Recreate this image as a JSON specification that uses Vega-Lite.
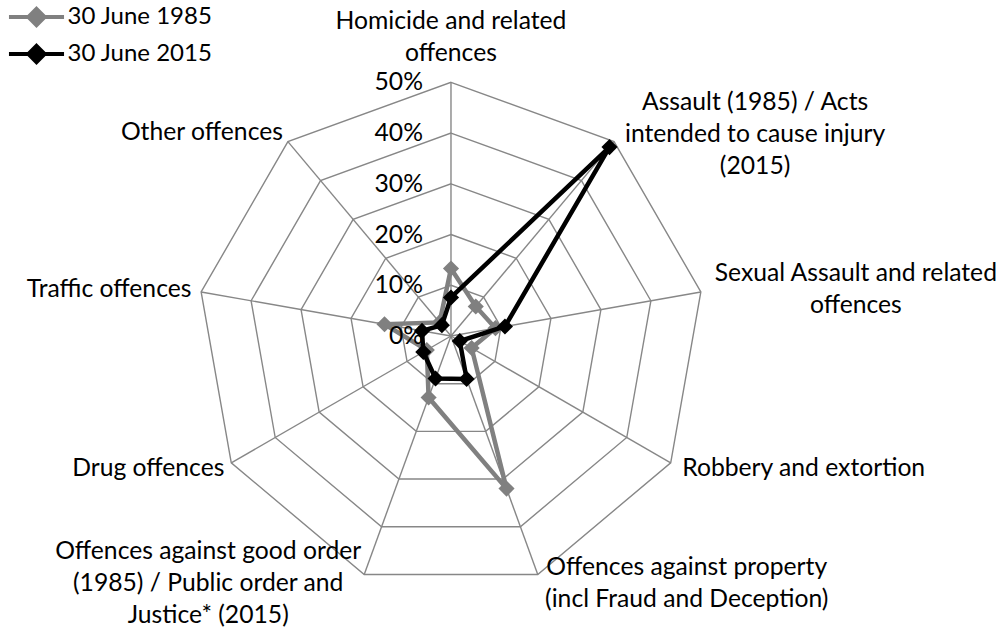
{
  "$schema": "https://vega.github.io/schema/vega-lite/v6.json",
  "width": 1003,
  "height": 629,
  "autosize": "none",
  "padding": 0,
  "background": "white",
  "config": {"view": {"stroke": null}, "font": "Lato", "text": {"font": "Lato", "fontSize": 24.7, "color": "#000000"}},
  "datasets": {
    "values": [
      {"series": "30 June 1985", "category": "Homicide", "i": 0, "v": 13.3},
      {"series": "30 June 1985", "category": "Assault", "i": 1, "v": 7.6},
      {"series": "30 June 1985", "category": "Sexual assault", "i": 2, "v": 8.9},
      {"series": "30 June 1985", "category": "Robbery", "i": 3, "v": 4.7},
      {"series": "30 June 1985", "category": "Property", "i": 4, "v": 32},
      {"series": "30 June 1985", "category": "Public order", "i": 5, "v": 12.9},
      {"series": "30 June 1985", "category": "Drug", "i": 6, "v": 5.5},
      {"series": "30 June 1985", "category": "Traffic", "i": 7, "v": 13.3},
      {"series": "30 June 1985", "category": "Other", "i": 8, "v": 3.5},
      {"series": "30 June 2015", "category": "Homicide", "i": 0, "v": 7.6},
      {"series": "30 June 2015", "category": "Assault", "i": 1, "v": 48.6},
      {"series": "30 June 2015", "category": "Sexual assault", "i": 2, "v": 10.8},
      {"series": "30 June 2015", "category": "Robbery", "i": 3, "v": 2},
      {"series": "30 June 2015", "category": "Property", "i": 4, "v": 9},
      {"series": "30 June 2015", "category": "Public order", "i": 5, "v": 8.9},
      {"series": "30 June 2015", "category": "Drug", "i": 6, "v": 6.3},
      {"series": "30 June 2015", "category": "Traffic", "i": 7, "v": 5.8},
      {"series": "30 June 2015", "category": "Other", "i": 8, "v": 2.8}
    ],
    "cats": [
      {"i": 0, "label": "Homicide and related\noffences"},
      {"i": 1, "label": "Assault (1985) / Acts\nintended to cause injury\n(2015)"},
      {"i": 2, "label": "Sexual Assault and related\noffences"},
      {"i": 3, "label": "Robbery and extortion"},
      {"i": 4, "label": "Offences against property\n(incl Fraud and Deception)"},
      {"i": 5, "label": "Offences against good order\n(1985) / Public order and\nJustice* (2015)"},
      {"i": 6, "label": "Drug offences"},
      {"i": 7, "label": "Traffic offences"},
      {"i": 8, "label": "Other offences"}
    ],
    "rings": [
      {"i": 0, "lv": [10, 20, 30, 40, 50]},
      {"i": 1, "lv": [10, 20, 30, 40, 50]},
      {"i": 2, "lv": [10, 20, 30, 40, 50]},
      {"i": 3, "lv": [10, 20, 30, 40, 50]},
      {"i": 4, "lv": [10, 20, 30, 40, 50]},
      {"i": 5, "lv": [10, 20, 30, 40, 50]},
      {"i": 6, "lv": [10, 20, 30, 40, 50]},
      {"i": 7, "lv": [10, 20, 30, 40, 50]},
      {"i": 8, "lv": [10, 20, 30, 40, 50]}
    ],
    "levels": [{"lv": 0}, {"lv": 10}, {"lv": 20}, {"lv": 30}, {"lv": 40}, {"lv": 50}]
  },
  "layer": [
    {
      "data": {"name": "rings"},
      "transform": [
        {"flatten": ["lv"]},
        {"calculate": "datum.lv * sin(datum.i * PI / 4.5)", "as": "px"},
        {"calculate": "datum.lv * cos(datum.i * PI / 4.5)", "as": "py"}
      ],
      "mark": {"type": "line", "interpolate": "linear-closed", "stroke": "#878787", "strokeWidth": 1.4},
      "encoding": {
        "x": {"field": "px", "type": "quantitative", "scale": {"domain": [-88.88, 108.79], "nice": false, "zero": false}, "axis": null},
        "y": {"field": "py", "type": "quantitative", "scale": {"domain": [-57.74, 66.22], "nice": false, "zero": false}, "axis": null},
        "detail": {"field": "lv", "type": "nominal"},
        "order": {"field": "i", "type": "quantitative"}
      }
    },
    {
      "data": {"name": "cats"},
      "transform": [
        {"calculate": "0", "as": "cx"},
        {"calculate": "50 * sin(datum.i * PI / 4.5)", "as": "ex"},
        {"calculate": "50 * cos(datum.i * PI / 4.5)", "as": "ey"}
      ],
      "mark": {"type": "rule", "stroke": "#878787", "strokeWidth": 1.4},
      "encoding": {
        "x": {"field": "cx", "type": "quantitative"},
        "y": {"field": "cx", "type": "quantitative"},
        "x2": {"field": "ex"},
        "y2": {"field": "ey"}
      }
    },
    {
      "data": {"name": "values"},
      "transform": [
        {"filter": "datum.series == '30 June 1985'"},
        {"calculate": "datum.v * sin(datum.i * PI / 4.5)", "as": "px"},
        {"calculate": "datum.v * cos(datum.i * PI / 4.5)", "as": "py"}
      ],
      "mark": {"type": "line", "interpolate": "linear-closed", "strokeWidth": 4.5},
      "encoding": {
        "x": {"field": "px", "type": "quantitative"},
        "y": {"field": "py", "type": "quantitative"},
        "order": {"field": "i", "type": "quantitative"},
        "color": {
          "field": "series", "type": "nominal",
          "scale": {"domain": ["30 June 1985", "30 June 2015"], "range": ["#808080", "#000000"]},
          "legend": {"title": null, "orient": "none", "legendX": 16.5, "legendY": -3, "padding": 0, "rowPadding": 0, "labelFont": "Lato", "labelFontSize": 24, "labelColor": "#000000", "labelOffset": 11, "symbolType": "M-1.53,0L1.53,0M0,-0.45L0.45,0L0,0.45L-0.45,0Z", "symbolSize": 1296, "symbolStrokeWidth": 4}
        }
      }
    },
    {
      "data": {"name": "values"},
      "transform": [
        {"filter": "datum.series == '30 June 1985'"},
        {"calculate": "datum.v * sin(datum.i * PI / 4.5)", "as": "px"},
        {"calculate": "datum.v * cos(datum.i * PI / 4.5)", "as": "py"}
      ],
      "mark": {"type": "point", "shape": "diamond", "filled": true, "size": 260, "opacity": 1},
      "encoding": {
        "x": {"field": "px", "type": "quantitative"},
        "y": {"field": "py", "type": "quantitative"},
        "color": {"field": "series", "type": "nominal"}
      }
    },
    {
      "data": {"name": "values"},
      "transform": [
        {"filter": "datum.series == '30 June 2015'"},
        {"calculate": "datum.v * sin(datum.i * PI / 4.5)", "as": "px"},
        {"calculate": "datum.v * cos(datum.i * PI / 4.5)", "as": "py"}
      ],
      "mark": {"type": "line", "interpolate": "linear-closed", "strokeWidth": 4.5},
      "encoding": {
        "x": {"field": "px", "type": "quantitative"},
        "y": {"field": "py", "type": "quantitative"},
        "order": {"field": "i", "type": "quantitative"},
        "color": {"field": "series", "type": "nominal"}
      }
    },
    {
      "data": {"name": "values"},
      "transform": [
        {"filter": "datum.series == '30 June 2015'"},
        {"calculate": "datum.v * sin(datum.i * PI / 4.5)", "as": "px"},
        {"calculate": "datum.v * cos(datum.i * PI / 4.5)", "as": "py"}
      ],
      "mark": {"type": "point", "shape": "diamond", "filled": true, "size": 260, "opacity": 1},
      "encoding": {
        "x": {"field": "px", "type": "quantitative"},
        "y": {"field": "py", "type": "quantitative"},
        "color": {"field": "series", "type": "nominal"}
      }
    },
    {
      "data": {"name": "levels"},
      "transform": [{"calculate": "datum.lv + '%'", "as": "t"}, {"calculate": "0", "as": "cx"}],
      "mark": {"type": "text", "align": "right", "baseline": "middle", "dx": -28, "dy": 1},
      "encoding": {
        "x": {"field": "cx", "type": "quantitative"},
        "y": {"field": "lv", "type": "quantitative"},
        "text": {"field": "t", "type": "nominal"}
      }
    },
    {
      "data": {"name": "cats"},
      "transform": [{"filter": "datum.i == 0"}, {"calculate": "50 * sin(datum.i * PI / 4.5)", "as": "ex"}, {"calculate": "50 * cos(datum.i * PI / 4.5)", "as": "ey"}],
      "mark": {"type": "text", "align": "center", "baseline": "middle", "lineBreak": "\n", "lineHeight": 32, "dx": 0, "dy": -60},
      "encoding": {"x": {"field": "ex", "type": "quantitative"}, "y": {"field": "ey", "type": "quantitative"}, "text": {"field": "label", "type": "nominal"}}
    },
    {
      "data": {"name": "cats"},
      "transform": [{"filter": "datum.i == 1"}, {"calculate": "50 * sin(datum.i * PI / 4.5)", "as": "ex"}, {"calculate": "50 * cos(datum.i * PI / 4.5)", "as": "ey"}],
      "mark": {"type": "text", "align": "center", "baseline": "middle", "lineBreak": "\n", "lineHeight": 32, "dx": 141, "dy": -39},
      "encoding": {"x": {"field": "ex", "type": "quantitative"}, "y": {"field": "ey", "type": "quantitative"}, "text": {"field": "label", "type": "nominal"}}
    },
    {
      "data": {"name": "cats"},
      "transform": [{"filter": "datum.i == 2"}, {"calculate": "50 * sin(datum.i * PI / 4.5)", "as": "ex"}, {"calculate": "50 * cos(datum.i * PI / 4.5)", "as": "ey"}],
      "mark": {"type": "text", "align": "center", "baseline": "middle", "lineBreak": "\n", "lineHeight": 32, "dx": 155, "dy": -18},
      "encoding": {"x": {"field": "ex", "type": "quantitative"}, "y": {"field": "ey", "type": "quantitative"}, "text": {"field": "label", "type": "nominal"}}
    },
    {
      "data": {"name": "cats"},
      "transform": [{"filter": "datum.i == 3"}, {"calculate": "50 * sin(datum.i * PI / 4.5)", "as": "ex"}, {"calculate": "50 * cos(datum.i * PI / 4.5)", "as": "ey"}],
      "mark": {"type": "text", "align": "center", "baseline": "middle", "lineBreak": "\n", "lineHeight": 32, "dx": 133, "dy": 6},
      "encoding": {"x": {"field": "ex", "type": "quantitative"}, "y": {"field": "ey", "type": "quantitative"}, "text": {"field": "label", "type": "nominal"}}
    },
    {
      "data": {"name": "cats"},
      "transform": [{"filter": "datum.i == 4"}, {"calculate": "50 * sin(datum.i * PI / 4.5)", "as": "ex"}, {"calculate": "50 * cos(datum.i * PI / 4.5)", "as": "ey"}],
      "mark": {"type": "text", "align": "center", "baseline": "middle", "lineBreak": "\n", "lineHeight": 32, "dx": 149, "dy": -6},
      "encoding": {"x": {"field": "ex", "type": "quantitative"}, "y": {"field": "ey", "type": "quantitative"}, "text": {"field": "label", "type": "nominal"}}
    },
    {
      "data": {"name": "cats"},
      "transform": [{"filter": "datum.i == 5"}, {"calculate": "50 * sin(datum.i * PI / 4.5)", "as": "ex"}, {"calculate": "50 * cos(datum.i * PI / 4.5)", "as": "ey"}],
      "mark": {"type": "text", "align": "center", "baseline": "middle", "lineBreak": "\n", "lineHeight": 32, "dx": -156, "dy": -22},
      "encoding": {"x": {"field": "ex", "type": "quantitative"}, "y": {"field": "ey", "type": "quantitative"}, "text": {"field": "label", "type": "nominal"}}
    },
    {
      "data": {"name": "cats"},
      "transform": [{"filter": "datum.i == 6"}, {"calculate": "50 * sin(datum.i * PI / 4.5)", "as": "ex"}, {"calculate": "50 * cos(datum.i * PI / 4.5)", "as": "ey"}],
      "mark": {"type": "text", "align": "center", "baseline": "middle", "lineBreak": "\n", "lineHeight": 32, "dx": -83, "dy": 6},
      "encoding": {"x": {"field": "ex", "type": "quantitative"}, "y": {"field": "ey", "type": "quantitative"}, "text": {"field": "label", "type": "nominal"}}
    },
    {
      "data": {"name": "cats"},
      "transform": [{"filter": "datum.i == 7"}, {"calculate": "50 * sin(datum.i * PI / 4.5)", "as": "ex"}, {"calculate": "50 * cos(datum.i * PI / 4.5)", "as": "ey"}],
      "mark": {"type": "text", "align": "center", "baseline": "middle", "lineBreak": "\n", "lineHeight": 32, "dx": -92, "dy": -2},
      "encoding": {"x": {"field": "ex", "type": "quantitative"}, "y": {"field": "ey", "type": "quantitative"}, "text": {"field": "label", "type": "nominal"}}
    },
    {
      "data": {"name": "cats"},
      "transform": [{"filter": "datum.i == 8"}, {"calculate": "50 * sin(datum.i * PI / 4.5)", "as": "ex"}, {"calculate": "50 * cos(datum.i * PI / 4.5)", "as": "ey"}],
      "mark": {"type": "text", "align": "center", "baseline": "middle", "lineBreak": "\n", "lineHeight": 32, "dx": -86, "dy": -9},
      "encoding": {"x": {"field": "ex", "type": "quantitative"}, "y": {"field": "ey", "type": "quantitative"}, "text": {"field": "label", "type": "nominal"}}
    }
  ]
}
